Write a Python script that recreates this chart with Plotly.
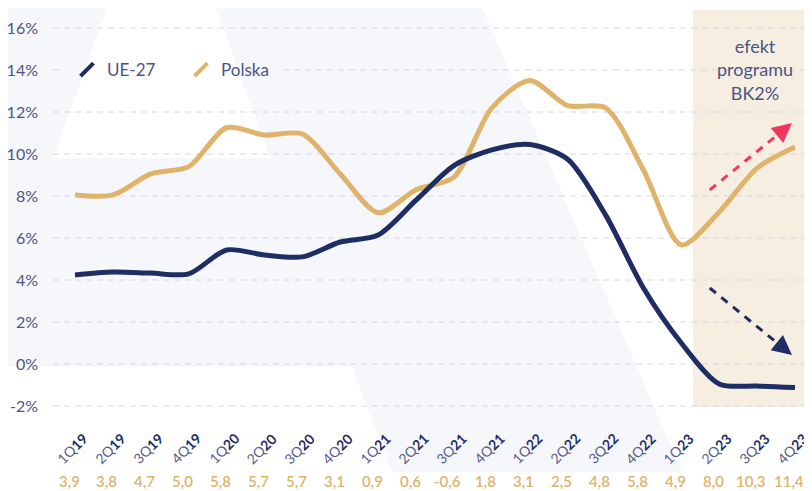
import plotly.graph_objects as go

quarters = ["1Q19", "2Q19", "3Q19", "4Q19", "1Q20", "2Q20", "3Q20", "4Q20",
            "1Q21", "2Q21", "3Q21", "4Q21", "1Q22", "2Q22", "3Q22", "4Q22",
            "1Q23", "2Q23", "3Q23", "4Q23"]
ue27 = [4.24, 4.38, 4.33, 4.29, 5.43, 5.19, 5.10, 5.81,
        6.14, 7.80, 9.45, 10.20, 10.45, 9.75, 7.10, 3.62,
        1.00, -0.95, -1.05, -1.12]
polska = [8.05, 8.05, 9.05, 9.40, 11.25, 10.90, 10.95, 9.05,
          7.20, 8.30, 8.90, 12.20, 13.50, 12.30, 12.20, 9.24,
          5.67, 7.24, 9.33, 10.33]
bottom_values = ["3,9", "3,8", "4,7", "5,0", "5,8", "5,7", "5,7", "3,1", "0,9", "0,6",
                 "-0,6", "1,8", "3,1", "2,5", "4,8", "5,8", "4,9", "8,0", "10,3", "11,4"]
y_ticks = [-2, 0, 2, 4, 6, 8, 10, 12, 14, 16]
y_tick_labels = [f"{v}%" for v in y_ticks]
series_names = ["UE-27", "Polska"]
box_text = "efekt<br>programu<br>BK2%"

NAVY = "#1e2d64"
GOLD = "#dfb36c"
TEXT = "#4b5583"
GRAY_BG = "#f6f7fa"
BEIGE = "#f6eee0"
RED = "#f0385c"
GRID = "#d6d8e1"
FONT = "Lato"

# the page body adds an 8px offset; figure sized to fit the 812x491 window
OFF = 8
W, H = 812 - OFF, 491 - OFF
ML, MR, MT, MB = 53 - OFF, 0, 27 - OFF, 84
PW, PH = W - ML - MR, H - MT - MB


def xp(px):  # screen px -> paper
    return (px - OFF - ML) / PW


def yp(py):  # screen py -> paper
    return (H - MB - (py - OFF)) / PH


x_idx = list(range(len(quarters)))
fig = go.Figure()

fig.add_trace(go.Scatter(x=x_idx, y=polska, mode="lines", name=series_names[1],
                         line=dict(color=GOLD, width=5, shape="spline", smoothing=0.8),
                         showlegend=False, hoverinfo="skip"))
fig.add_trace(go.Scatter(x=x_idx, y=ue27, mode="lines", name=series_names[0],
                         line=dict(color=NAVY, width=5, shape="spline", smoothing=0.8),
                         showlegend=False, hoverinfo="skip"))
for nm, c in zip(series_names, [NAVY, GOLD]):
    fig.add_trace(go.Scatter(x=[None], y=[None], mode="markers", name=nm,
                             marker=dict(symbol="line-ne", size=13, color=c,
                                         line=dict(width=4, color=c))))

shapes = []
pts = [(0, 0), (110, 0), (53, 158), (270, 158), (213, 0), (479, 0), (682, 472),
       (392, 472), (352, 367), (0, 367)]
path = "M " + " L ".join(f"{xp(a):.5f},{yp(b):.5f}" for a, b in pts) + " Z"
shapes.append(dict(type="path", path=path, xref="paper", yref="paper",
                   fillcolor=GRAY_BG, line=dict(width=0), layer="below"))
shapes.append(dict(type="rect", xref="paper", yref="paper", x0=xp(693), x1=xp(812),
                   y0=yp(407), y1=yp(10), fillcolor=BEIGE, line=dict(width=0), layer="below"))
for v in y_ticks:
    segs = [(0, 1)] if v != 14 else [(0, xp(63)), (xp(283), 1)]
    for a, b in segs:
        shapes.append(dict(type="line", xref="paper", yref="y", x0=a, x1=b, y0=v, y1=v,
                           line=dict(color=GRID, width=1, dash="6px,5px"), layer="below"))
shapes.append(dict(type="line", xref="x", yref="y", x0=16.75, y0=8.29, x1=18.68, y1=11.12,
                   line=dict(color=RED, width=3, dash="8px,7px")))
shapes.append(dict(type="line", xref="x", yref="y", x0=16.75, y0=3.62, x1=18.68, y1=0.78,
                   line=dict(color=NAVY, width=3, dash="8px,7px")))

annotations = []
for tip, back, c in [((18.92, 11.48), (18.68, 11.12), RED), ((18.92, 0.43), (18.68, 0.78), NAVY)]:
    annotations.append(dict(x=tip[0], y=tip[1], ax=back[0], ay=back[1], xref="x", yref="y",
                            axref="x", ayref="y", showarrow=True, arrowhead=2, arrowsize=1.3,
                            arrowwidth=3, arrowcolor=c, standoff=0, text=""))

for i, q in enumerate(quarters):
    annotations.append(dict(x=i, y=yp(448), xref="x", yref="paper", showarrow=False,
                            textangle=-45, xanchor="center", yanchor="middle", xshift=-3,
                            text=f"<span style='color:#56608e'>{q[:2]}</span><b>{q[2:]}</b>",
                            font=dict(family=FONT, size=14, color=NAVY)))
    annotations.append(dict(x=i, y=yp(481), xref="x", yref="paper", showarrow=False,
                            xanchor="center", yanchor="middle",
                            xshift=-6, text=bottom_values[i],
                            font=dict(family=FONT, size=15, color=GOLD, weight=600)))

annotations.append(dict(x=xp(755), y=yp(69), xref="paper", yref="paper", showarrow=False,
                        xanchor="center", yanchor="middle",
                        text=box_text, align="center",
                        font=dict(family=FONT, size=18, color=TEXT)))

fig.update_layout(
    width=W, height=H,
    margin=dict(l=ML, r=MR, t=MT, b=MB, autoexpand=False),
    paper_bgcolor="white", plot_bgcolor="rgba(0,0,0,0)",
    font=dict(family=FONT, color=TEXT),
    shapes=shapes, annotations=annotations,
    legend=dict(orientation="h", x=xp(67), y=yp(70), xanchor="left", yanchor="middle",
                bgcolor="rgba(0,0,0,0)", font=dict(family=FONT, size=17, color=TEXT),
                entrywidth=69, entrywidthmode="pixels", itemwidth=30),
    xaxis=dict(range=[-0.5806, 19.4486], showgrid=False, zeroline=False, automargin=False,
               showticklabels=False, ticks="", fixedrange=True),
    yaxis=dict(range=[-2.048, 16.048], showgrid=False, zeroline=False, automargin=False,
               tickmode="array", tickvals=y_ticks, ticktext=y_tick_labels, ticks="",
               ticklabelstandoff=14,
               tickfont=dict(family=FONT, size=16, color=TEXT)),
)

fig.write_html("out.html")
